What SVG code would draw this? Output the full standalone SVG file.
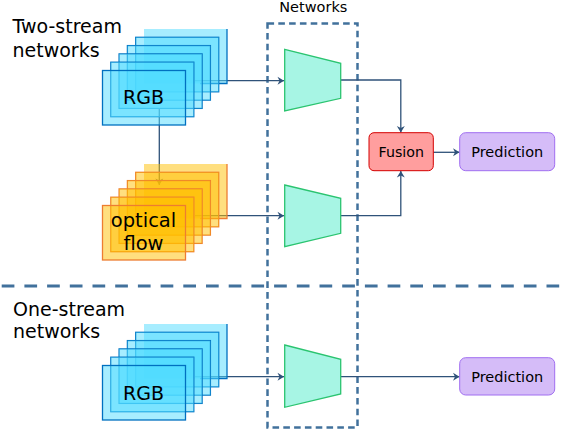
<svg xmlns="http://www.w3.org/2000/svg" width="566" height="430" viewBox="0 0 566 430">
<defs>
<style>
text{font-family:"DejaVu Sans","Liberation Sans",sans-serif;fill:#000}
.conn{fill:none;stroke:#2f5279;stroke-width:1.3}
.dash{fill:none;stroke:#41719c}
.bf{fill:#50dcff;fill-opacity:0.5}
.bo{fill:none;stroke:#0070c0;stroke-width:1.3}
.of{fill:#ffc000;fill-opacity:0.5}
.oo{fill:none;stroke:#ed7d31;stroke-width:1.3}
.trap{fill:#a7f5e4;stroke:#2bc470;stroke-width:1.3}
</style>
<marker id="ah" viewBox="-8 -5 10 10" markerWidth="10" markerHeight="10" refX="0" refY="0" orient="auto" markerUnits="userSpaceOnUse">
<path d="M0,0 L-6.5,-4 L-4.5,0 L-6.5,4 Z" fill="#2f5279"/>
</marker>
<g id="rgbStack">
<rect class="bf" x="144" y="0" width="83" height="54.5"/>
<path class="bo" d="M227,0 V54.5 H200"/>
<rect class="bo" x="135.7" y="8.3" width="83" height="54.5"/>
<rect class="bf" x="135.7" y="8.3" width="83" height="54.5"/>
<rect class="bo" x="127.4" y="16.6" width="83" height="54.5"/>
<rect class="bf" x="127.4" y="16.6" width="83" height="54.5"/>
<rect class="bo" x="119.1" y="24.9" width="83" height="54.5"/>
<rect class="bf" x="119.1" y="24.9" width="83" height="54.5"/>
<rect class="bo" x="110.8" y="33.2" width="83" height="54.5"/>
<rect class="bf" x="110.8" y="33.2" width="83" height="54.5"/>
<rect class="bf" x="102.5" y="41.5" width="83" height="54.5"/>
<rect class="bo" x="102.5" y="41.5" width="83" height="54.5"/>
</g>
<g id="ofStack">
<rect class="of" x="144" y="0" width="83" height="54.5"/>
<path class="oo" d="M227,0 V54.5 H200"/>
<rect class="oo" x="135.7" y="8.3" width="83" height="54.5"/>
<rect class="of" x="135.7" y="8.3" width="83" height="54.5"/>
<rect class="oo" x="127.4" y="16.6" width="83" height="54.5"/>
<rect class="of" x="127.4" y="16.6" width="83" height="54.5"/>
<rect class="oo" x="119.1" y="24.9" width="83" height="54.5"/>
<rect class="of" x="119.1" y="24.9" width="83" height="54.5"/>
<rect class="oo" x="110.8" y="33.2" width="83" height="54.5"/>
<rect class="of" x="110.8" y="33.2" width="83" height="54.5"/>
<rect class="of" x="102.5" y="41.5" width="83" height="54.5"/>
<rect class="oo" x="102.5" y="41.5" width="83" height="54.5"/>
</g>
</defs>
<rect width="566" height="430" fill="#fff"/>

<g id="labels">
<text x="12.5" y="33.3" font-size="19">Two-stream</text>
<text x="12.5" y="56.7" font-size="19">networks</text>
<text x="13" y="316" font-size="19">One-stream</text>
<text x="13" y="337.5" font-size="19">networks</text>
<text x="313.3" y="11.7" font-size="14.5" text-anchor="middle">Networks</text>
</g>

<g id="separators">
<rect class="dash" x="267.5" y="23.5" width="90" height="404" stroke-width="2.5" stroke-dasharray="6.6 4.2"/>
<line class="dash" x1="1.7" y1="286" x2="566" y2="286" stroke-width="3" stroke-dasharray="12.7 10"/>
</g>

<g id="connectors">
<polyline class="conn" points="195,80.7 284,80.7" marker-end="url(#ah)"/>
<polyline class="conn" points="159.3,108 159.3,185" marker-end="url(#ah)"/>
<polyline class="conn" points="195,215.7 284,215.7" marker-end="url(#ah)"/>
<polyline class="conn" points="195,376.7 284,376.7" marker-end="url(#ah)"/>
<polyline class="conn" points="340.7,80 400.8,80 400.8,132.5" marker-end="url(#ah)"/>
<polyline class="conn" points="340.7,215.7 400.8,215.7 400.8,171" marker-end="url(#ah)"/>
<polyline class="conn" points="433.3,152.3 459.5,152.3" marker-end="url(#ah)"/>
<polyline class="conn" points="340.7,376.7 459.5,376.7" marker-end="url(#ah)"/>
</g>

<g id="rgb-top">
<use href="#rgbStack" x="0" y="29"/>
<text x="143.5" y="104.3" font-size="19" text-anchor="middle">RGB</text>
</g>

<g id="optical-flow">
<use href="#ofStack" x="0" y="164"/>
<text x="143.5" y="226.7" font-size="19.5" text-anchor="middle">optical</text>
<text x="143.5" y="250" font-size="19.5" text-anchor="middle">flow</text>
</g>

<g id="rgb-bottom">
<use href="#rgbStack" x="0" y="324"/>
<text x="143.5" y="400" font-size="19" text-anchor="middle">RGB</text>
</g>

<g id="net-rgb">
<polygon class="trap" points="284.7,49.3 340.7,63.3 340.7,98.3 284.7,111"/>
</g>
<g id="net-flow">
<polygon class="trap" points="284.7,185 340.7,198.3 340.7,233.3 284.7,246.7"/>
</g>
<g id="net-one">
<polygon class="trap" points="284.7,345 340.7,359.3 340.7,394 284.7,407.3"/>
</g>

<g id="fusion">
<rect x="369" y="132.7" width="64.3" height="38" rx="5" fill="#ff9e9e" stroke="#d40000" stroke-width="1"/>
<text x="401.2" y="157.3" font-size="14.2" text-anchor="middle">Fusion</text>
</g>

<g id="prediction-top">
<rect x="459.7" y="132.7" width="95" height="38" rx="6" fill="#d5bcf8" stroke="#a06ef0" stroke-width="1"/>
<text x="507.2" y="157.3" font-size="14.5" text-anchor="middle">Prediction</text>
</g>

<g id="prediction-bottom">
<rect x="459.7" y="357.7" width="95" height="37.3" rx="6" fill="#d5bcf8" stroke="#a06ef0" stroke-width="1"/>
<text x="507.2" y="381.7" font-size="14.5" text-anchor="middle">Prediction</text>
</g>
</svg>
